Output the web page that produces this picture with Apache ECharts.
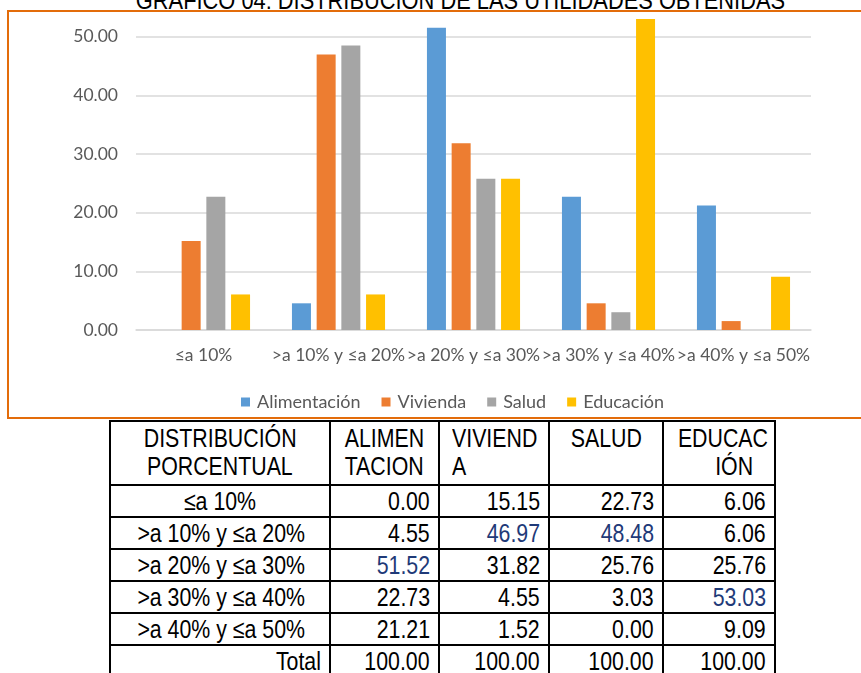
<!DOCTYPE html>
<html>
<head>
<meta charset="utf-8">
<script src="https://cdn.jsdelivr.net/npm/echarts@6/dist/echarts.min.js"></script>
<style>
  html, body { margin: 0; padding: 0; width: 861px; height: 673px; overflow: hidden; background: #fff; }
  .nar { display: inline-block; transform: scaleX(0.82); white-space: nowrap; }
  #title { position: absolute; left: 0; width: 920px; top: -13px; text-align: center; white-space: nowrap;
    font-family: "Liberation Sans", Arial, sans-serif; font-size: 26px; color: #000; line-height: 26px; }
  #title .nar { transform: scaleX(0.84); transform-origin: 50% 50%; }
  #frame { position: absolute; left: 7px; top: 10px; width: 900px; height: 405px; border: 2px solid #E36C0A; }
  #chart { position: absolute; left: 0; top: -40px; width: 861px; height: 460px; }
  #tbl { position: absolute; left: 109px; top: 420px; width: 665px; border-collapse: collapse; table-layout: fixed;
    font-family: "Liberation Sans", Arial, sans-serif; font-size: 26px; color: #000; }
  #tbl td { border: 2px solid #000; padding: 0 8px; height: 30px; line-height: 30px; white-space: nowrap; overflow: visible; }
  #tbl tr.h td { height: 60px; line-height: 28px; vertical-align: top; }
  #tbl td.num { text-align: right; }
  #tbl td.num .nar { transform-origin: 100% 50%; }
  #tbl td.lab { text-align: center; }
  #tbl td.lab .nar { transform-origin: 50% 50%; }
  #tbl td.tot { text-align: right; }
  #tbl td.tot .nar { transform-origin: 100% 50%; }
  .hl { color: #1F3A78; }
</style>
</head>
<body>
<div id="title"><span class="nar" id="titleText">GRAFICO 04: DISTRIBUCIÓN DE LAS UTILIDADES OBTENIDAS</span></div>
<div id="frame"></div>
<div id="chart"></div>
<table id="tbl"></table>
<script>
// ---- data ----
var categories = ['≤a 10%', '>a 10% y ≤a 20%', '>a 20% y ≤a 30%', '>a 30% y ≤a 40%', '>a 40% y ≤a 50%'];
var seriesNames = ['Alimentación', 'Vivienda', 'Salud', 'Educación'];
var alimentacion = [0.00, 4.55, 51.52, 22.73, 21.21];
var vivienda = [15.15, 46.97, 31.82, 4.55, 1.52];
var salud = [22.73, 48.48, 25.76, 3.03, 0.00];
var educacion = [6.06, 6.06, 25.76, 53.03, 9.09];
var totals = [100.00, 100.00, 100.00, 100.00];
var yTicks = [0, 10, 20, 30, 40, 50, 60];
var tableHeaders = [['DISTRIBUCIÓN', 'PORCENTUAL'], ['ALIMEN', 'TACION'], ['VIVIEND', 'A'], ['SALUD', ''], ['EDUCAC', 'IÓN']];
var highlighted = [[2, 0], [1, 1], [1, 2], [3, 3]]; // [row, col] values shown in blue
var colors = ['#5B9BD5', '#ED7D31', '#A5A5A5', '#FFC000'];

var seriesData = [alimentacion, vivienda, salud, educacion];

// ---- chart ----
var chart = echarts.init(document.getElementById('chart'), null, { renderer: 'canvas' });
var font = 'Lato, "Open Sans", sans-serif';
chart.setOption({
  backgroundColor: 'transparent',
  animation: false,
  color: colors,
  grid: { left: 136, right: 50, top: 18, bottom: 90, containLabel: false },
  legend: {
    data: seriesNames, left: 241, top: 433, padding: 0, icon: 'rect', itemWidth: 9, itemHeight: 9, itemGap: 21,
    textStyle: { color: '#595959', fontSize: 18, fontFamily: font, padding: [0, 0, 0, 2] }
  },
  xAxis: {
    type: 'category', data: categories,
    axisLine: { lineStyle: { color: '#D9D9D9', width: 1.5 } },
    axisTick: { show: false },
    axisLabel: { color: '#595959', fontSize: 17.5, fontFamily: font, margin: 16, interval: 0 }
  },
  yAxis: {
    type: 'value', min: yTicks[0], max: yTicks[yTicks.length - 1], interval: yTicks[1] - yTicks[0],
    axisLine: { show: false }, axisTick: { show: false },
    axisLabel: { color: '#595959', fontSize: 17.5, fontFamily: font, margin: 18,
      formatter: function (v) { return v.toFixed(2); } },
    splitLine: { lineStyle: { color: '#D9D9D9', width: 1.5 } }
  },
  series: seriesNames.map(function (n, i) {
    return { name: n, type: 'bar', data: seriesData[i], barWidth: 19, barGap: '30%',
      itemStyle: { color: colors[i] } };
  })
});

// ---- table ----
var tbl = document.getElementById('tbl');
var colWidths = [220, 109, 110, 114, 112];
function isHl(r, c) { return highlighted.some(function (h) { return h[0] === r && h[1] === c; }); }
function nar(t, origin) { return '<span class="nar"' + (origin ? ' style="transform-origin:' + origin + '"' : '') + '>' + t + '</span>'; }
var html = '<colgroup>';
colWidths.forEach(function (w) { html += '<col style="width:' + w + 'px">'; });
html += '</colgroup><tr class="h">';
var hCfg = [
  ['center', '50% 50%', ''],
  ['center', '50% 50%', ''],
  ['left', '0 50%', ''],
  ['center', '50% 50%', ''],
  ['center', '50% 50%', 'padding-left:30px']
];
tableHeaders.forEach(function (h, i) {
  var c = hCfg[i];
  html += '<td style="text-align:' + c[0] + ';padding:2px 4px 0 ' + (c[0] === 'left' ? 12 : 4) + 'px">' + nar(h[0], c[1]) + '<br>' +
    '<span style="display:inline-block;' + c[2] + '">' + nar(h[1] || '&nbsp;', c[1]) + '</span></td>';
});
html += '</tr>';
categories.forEach(function (c, r) {
  html += '<tr><td class="lab">' + nar(c) + '</td>';
  seriesData.forEach(function (arr, k) {
    html += '<td class="num' + (isHl(r, k) ? ' hl' : '') + '">' + nar(arr[r].toFixed(2)) + '</td>';
  });
  html += '</tr>';
});
html += '<tr><td class="tot">' + nar('Total') + '</td>';
totals.forEach(function (t) { html += '<td class="num">' + nar(t.toFixed(2)) + '</td>'; });
html += '</tr>';
tbl.innerHTML = html;
</script>
</body>
</html>
